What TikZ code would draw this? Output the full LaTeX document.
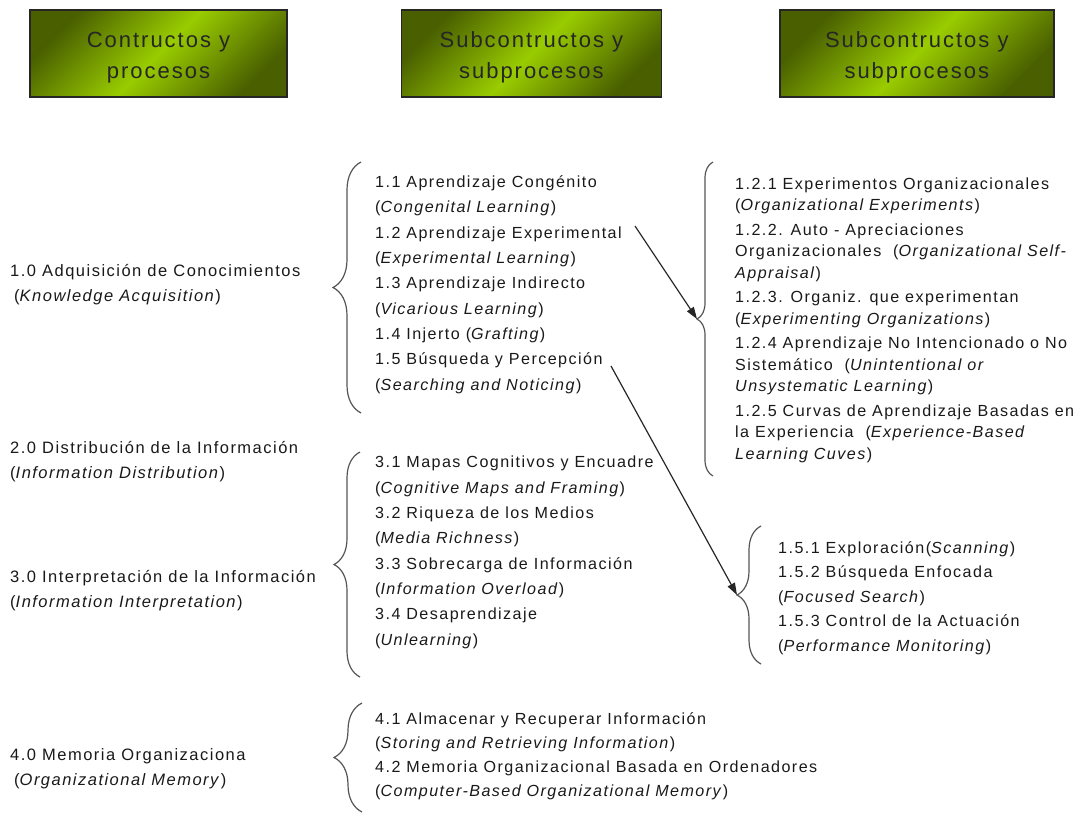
\documentclass[tikz,border=0pt]{standalone}
\usepackage{fontspec}
\setmainfont{Liberation Sans}[LetterSpace=9.0]
\definecolor{hdrdark}{HTML}{4A6000}
\definecolor{hdrlight}{HTML}{99CC00}
\definecolor{brcgray}{HTML}{555555}
\usepackage{tikz}
\usetikzlibrary{positioning,arrows.meta,decorations.pathreplacing,shadows}
\newcommand{\hdrstrut}{\rule{0pt}{24pt}}

\begin{document}
\begin{tikzpicture}[
      x=1pt, y=-1pt,
      hdr/.style={rectangle, draw=black!85, line width=1.4pt, minimum height=87pt,
                  top color=hdrdark, bottom color=hdrdark, middle color=hdrlight, shading angle=45,
                  align=center, font=\fontsize{22}{31}\selectfont, text=black!85,
                  drop shadow={shadow xshift=1pt, shadow yshift=-1pt, fill=black!35}},
      itm/.style={anchor=base west, align=left, inner sep=0pt, text=black!90},
      brc/.style={draw=brcgray, line width=1.2pt, decorate, decoration={brace, amplitude=#1}},
      arr/.style={-{Triangle[length=12pt,width=8pt]}, line width=1.2pt, black!85},
    ]
    \useasboundingbox (0,0) rectangle (1081,812);

    % headers
    \node[hdr, minimum width=257pt] (h1) at (158.5,53.5) {\hdrstrut Contructos y\\procesos};
    \node[hdr, minimum width=260pt, right=113pt of h1] (h2) {\hdrstrut Subcontructos y\\subprocesos};
    \node[hdr, minimum width=274pt, right=117pt of h2] (h3) {\hdrstrut Subcontructos y\\subprocesos};

    % constructs (base = last line)
    \node[itm, font=\fontsize{16.5}{25}\selectfont] (k1) at (10,301)
      {1.0 Adquisición de Conocimientos\\\hspace{4pt}(\textit{Knowledge Acquisition})};
    \node[itm, font=\fontsize{16.5}{25}\selectfont] (k2) at (10,478)
      {2.0 Distribución de la Información\\(\textit{Information Distribution})};
    \node[itm, font=\fontsize{16.5}{25}\selectfont] (k3) at (10,607)
      {3.0 Interpretación de la Información\\(\textit{Information Interpretation})};
    \node[itm, font=\fontsize{16.5}{25}\selectfont] (k4) at (10,785)
      {4.0 Memoria Organizaciona\\\hspace{4pt}(\textit{Organizational Memory})};

    % subconstructs
    \node[itm, font=\fontsize{16.1}{25.3}\selectfont] (s1) at (375,390)
      {1.1 Aprendizaje Congénito\\(\textit{Congenital Learning})\\
       1.2 Aprendizaje Experimental\\(\textit{Experimental Learning})\\
       1.3 Aprendizaje Indirecto\\(\textit{Vicarious Learning})\\
       1.4 Injerto (\textit{Grafting})\\
       1.5 Búsqueda y Percepción\\(\textit{Searching and Noticing})};
    \node[itm, font=\fontsize{16.1}{25.3}\selectfont] (s3) at (375,645)
      {3.1 Mapas Cognitivos y Encuadre\\(\textit{Cognitive Maps and Framing})\\
       3.2 Riqueza de los Medios\\(\textit{Media Richness})\\
       3.3 Sobrecarga de Información\\(\textit{Information Overload})\\
       3.4 Desaprendizaje\\(\textit{Unlearning})};
    \node[itm, font=\fontsize{16.1}{24}\selectfont] (s4) at (375,796)
      {4.1 Almacenar y Recuperar Información\\(\textit{Storing and Retrieving Information})\\
       4.2 Memoria Organizacional Basada en Ordenadores\\(\textit{Computer-Based Organizational Memory})};

    % sub-subconstructs
    \node[itm, font=\fontsize{16.1}{21.5}\selectfont] (s12) at (735,459)
      {1.2.1 Experimentos Organizacionales\\(\textit{Organizational Experiments})\\[3pt]
       1.2.2. Auto - Apreciaciones\\Organizacionales\ \ (\textit{Organizational Self-}\\\textit{Appraisal})\\[3pt]
       1.2.3. Organiz. que experimentan\\(\textit{Experimenting Organizations})\\[3pt]
       1.2.4 Aprendizaje No Intencionado o No\\Sistemático\ \ (\textit{Unintentional or}\\\textit{Unsystematic Learning})\\[3pt]
       1.2.5 Curvas de Aprendizaje Basadas en\\la Experiencia\ \ (\textit{Experience-Based}\\\textit{Learning Cuves})};
    \node[itm, font=\fontsize{16.1}{24.5}\selectfont] (s15) at (778,651)
      {1.5.1 Exploración(\textit{Scanning})\\
       1.5.2 Búsqueda Enfocada\\(\textit{Focused Search})\\
       1.5.3 Control de la Actuación\\(\textit{Performance Monitoring})};

    % braces
    \draw[brc=28] (361,413) -- (361,162);
    \draw[brc=26] (360,677) -- (360,452);
    \draw[brc=28] (362,812) -- (362,703);
    \draw[brc=16] (713,476) -- (713,162);
    \draw[brc=24] (761,664) -- (761,526);

    \coordinate (a12) at (635,226);
    \coordinate (t12) at (697,319);
    \coordinate (a15) at (611,366);
    \coordinate (t15) at (737,595);

    \draw[arr] (a12) -- (t12);
    \draw[arr] (a15) -- (t15);
  \end{tikzpicture}
\end{document}
